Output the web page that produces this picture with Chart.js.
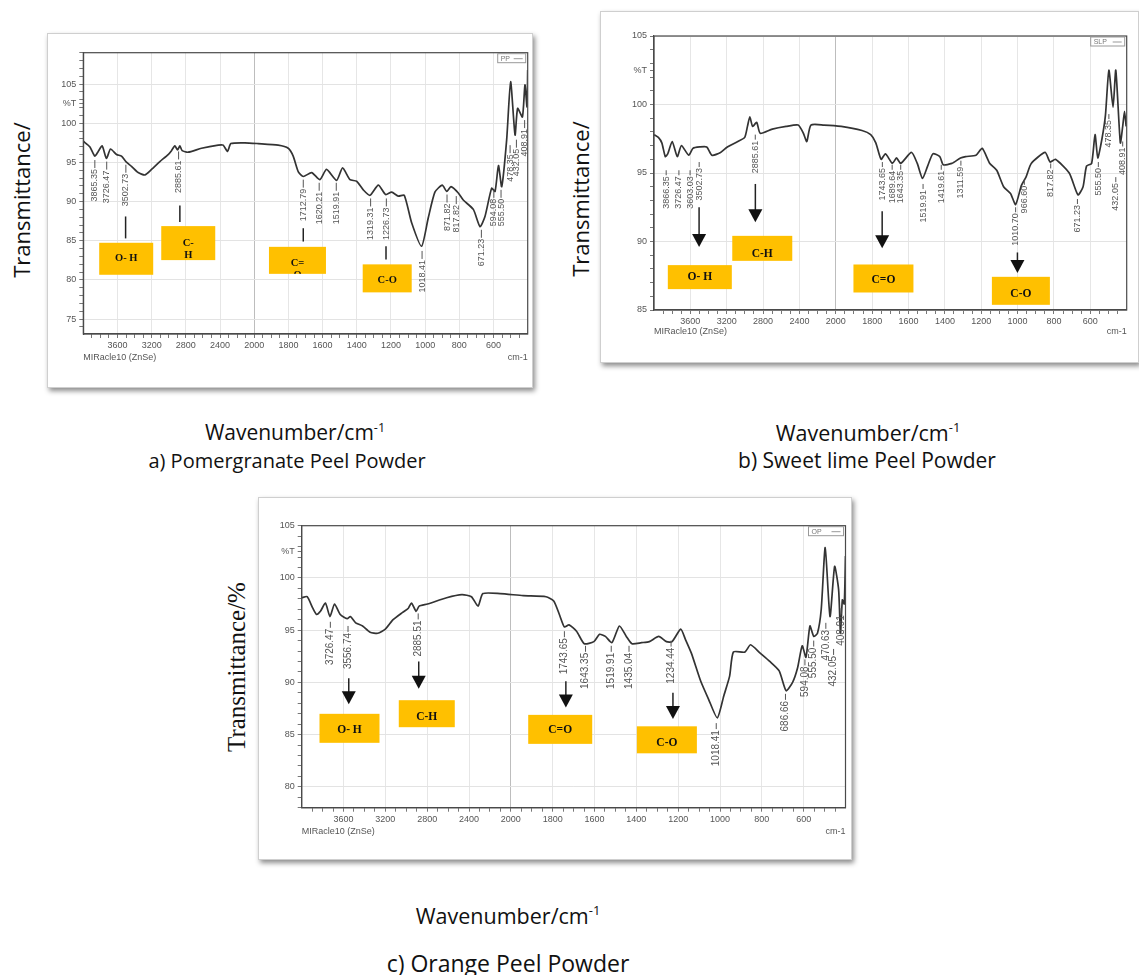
<!DOCTYPE html>
<html lang="en">
<head>
    <meta charset="UTF-8">
    <title>FTIR spectra of peel powders</title>
    <script src="https://cdn.jsdelivr.net/npm/chart.js"></script>
    <style>
        body {
            margin: 0;
            width: 1139px;
            height: 975px;
            position: relative;
            overflow: hidden;
            background: #fff;
            font-family: "Open Sans", "Liberation Sans", sans-serif;
            color: #111;
        }
        .card {
            position: absolute;
            box-sizing: border-box;
            border: 1px solid #cfcfcf;
            background: #fff;
            box-shadow: 2px 3px 5px rgba(0, 0, 0, 0.45);
        }
        .card .plot {
            position: absolute;
            inset: 0;
        }
        .ylab {
            position: absolute;
            transform: translate(-50%, -50%) rotate(-90deg);
            white-space: nowrap;
            font-size: 22px;
        }
        .serif {
            font-family: "Liberation Serif", "Times New Roman", serif;
            font-size: 25px;
        }
        .cap {
            position: absolute;
            transform: translate(-50%, -50%);
            white-space: nowrap;
            font-size: 21px;
        }
        .cap sup { font-size: 0.6em; }
    </style>
</head>
<body>

    <div class="card" style="left:47px; top:33px; width:486px; height:355px;">
        <div class="plot"><canvas id="chartA"></canvas></div>
    </div>
    <div class="card" style="left:600px; top:11px; width:539px; height:352px;">
        <div class="plot"><canvas id="chartB"></canvas></div>
    </div>
    <div class="card" style="left:258px; top:497px; width:594px; height:363px;">
        <div class="plot"><canvas id="chartC"></canvas></div>
    </div>

    <div class="ylab" style="left:21px; top:200px;">Transmittance/</div>
    <div class="ylab" style="left:580px; top:199px;">Transmittance/</div>
    <div class="ylab serif" style="left:237px; top:667px;">Transmittance/%</div>

    <div class="cap" style="left:295px; top:432px;">Wavenumber/cm<sup>-1</sup></div>
    <div class="cap" style="left:287px; top:460px; font-size:20px;">a) Pomergranate Peel Powder</div>
    <div class="cap" style="left:868px; top:432px; font-size:21.5px;">Wavenumber/cm<sup>-1</sup></div>
    <div class="cap" style="left:867px; top:460px;">b) Sweet lime Peel Powder</div>
    <div class="cap" style="left:508px; top:915px; font-size:21.5px;">Wavenumber/cm<sup>-1</sup></div>
    <div class="cap" style="left:508px; top:963px; font-size:23px;">c) Orange Peel Powder</div>

    <script>
        // x axis labels (wavenumber, cm-1)
        const xLabels = [3600, 3200, 2800, 2400, 2000, 1800, 1600, 1400, 1200, 1000, 800, 600];

        // a) pomegranate peel powder
        const wnA = [4000, 3924, 3865, 3825, 3779, 3729, 3682, 3611, 3553, 3502, 3436, 3358, 3280, 3202, 3104, 3007,
            2968, 2929, 2897, 2870, 2843, 2773, 2617, 2421, 2363, 2312, 2273, 2109, 1977, 1860, 1801, 1772, 1742,
            1713, 1664, 1616, 1577, 1518, 1483, 1440, 1401, 1362, 1323, 1274, 1231, 1196, 1157, 1122, 1079, 1021,
            982, 943, 900, 874, 849, 806, 777, 718, 679, 650, 611, 591, 571, 552, 523, 500, 474, 459, 431, 416, 404, 400];
        const tA = [97.7, 97.0, 95.8, 96.4, 97.1, 95.5, 96.7, 96.0, 95.8, 95.1, 94.5, 93.7, 93.4, 94.1, 95.1, 96.0,
            96.5, 97.1, 96.6, 97.1, 96.5, 96.3, 96.8, 97.2, 97.2, 96.4, 97.4, 97.5, 97.4, 97.2, 96.8, 95.8, 93.8,
            93.2, 93.7, 92.8, 94.1, 92.7, 94.3, 92.8, 92.6, 91.5, 90.8, 92.1, 90.9, 91.2, 90.7, 90.8, 87.3, 84.3,
            87.9, 91.2, 92.1, 91.3, 91.9, 91.1, 90.2, 89.0, 86.8, 88.1, 91.7, 91.3, 94.6, 91.9, 97.9, 105.3, 98.5,
            101.9, 100.8, 104.9, 102.1, 106.8];
        const peakA = ['3865.35', '3726.47', '3502.73', '2885.61', '1712.79', '1620.21', '1519.91', '1319.31',
            '1226.73', '1018.41', '871.82', '817.82', '671.23', '594.08', '555.50', '478.35', '432.05', '408.91'];
        const peakXA = [3865, 3726, 3502, 2885, 1713, 1620, 1520, 1319, 1227, 1018, 872, 818, 671, 598, 556, 503, 466, 418];
        const peakTA = [95.3, 95.1, 94.7, 96.4, 92.8, 92.4, 92.4, 90.4, 90.4, 83.7, 90.9, 90.7, 86.4, 91.5, 91.5, 97.2, 97.9, 100.4];

        // b) sweet lime peel powder
        const wnB = [4000, 3952, 3914, 3876, 3849, 3800, 3744, 3698, 3618, 3572, 3497, 3420, 3364, 3268, 3193, 3078,
            3002, 2972, 2946, 2915, 2870, 2832, 2699, 2547, 2414, 2357, 2319, 2274, 2130, 1970, 1856, 1808, 1780,
            1751, 1727, 1689, 1666, 1643, 1584, 1552, 1523, 1495, 1466, 1428, 1409, 1362, 1314, 1286, 1229, 1195,
            1153, 1115, 1077, 1039, 1011, 979, 954, 925, 849, 821, 792, 716, 668, 640, 621, 593, 574, 559, 536, 517,
            498, 475, 460, 435, 422, 412, 403];
        const tB = [97.8, 97.6, 97.2, 96.2, 96.4, 97.3, 96.2, 97.0, 96.3, 96.8, 96.9, 96.9, 96.3, 96.5, 96.9, 97.3,
            97.6, 98.4, 99.1, 98.4, 98.7, 97.9, 98.2, 98.4, 98.5, 97.9, 97.3, 98.5, 98.5, 98.4, 98.1, 97.8, 97.2,
            96.0, 96.4, 95.7, 96.1, 95.7, 96.5, 95.7, 94.6, 95.5, 96.4, 96.2, 95.6, 95.7, 96.1, 96.2, 96.3, 96.8,
            95.7, 95.2, 94.0, 93.5, 92.7, 94.1, 94.7, 95.7, 96.5, 95.8, 96.0, 95.0, 93.4, 94.0, 95.5, 95.7, 97.8,
            96.1, 97.5, 99.2, 102.5, 99.8, 102.5, 97.2, 98.4, 99.5, 98.4];
        const peakB = ['3866.35', '3726.47', '3603.03', '3502.73', '2885.61', '1743.65', '1689.64', '1643.35',
            '1519.91', '1419.61', '1311.59', '1010.70', '966.60', '817.82', '671.23', '555.50', '478.35', '432.05', '408.91'];
        const peakXB = [3866, 3726, 3603, 3503, 2886, 1744, 1690, 1643, 1520, 1420, 1312, 1011, 963, 818, 671, 556, 498, 460, 422];
        const peakTB = [95.2, 95.2, 95.2, 95.8, 97.8, 95.8, 95.6, 95.6, 94.2, 95.6, 95.9, 92.5, 94.5, 95.7, 93.1, 95.8, 99.3, 94.7, 97.3];

        // c) orange peel powder
        const wnC = [4000, 3948, 3894, 3858, 3821, 3773, 3730, 3686, 3631, 3565, 3535, 3484, 3418, 3346, 3272, 3200,
            3126, 3035, 2980, 2950, 2906, 2877, 2797, 2614, 2468, 2377, 2314, 2267, 2102, 1941, 1832, 1795, 1768,
            1744, 1722, 1686, 1649, 1603, 1576, 1548, 1517, 1481, 1448, 1421, 1375, 1338, 1293, 1256, 1229, 1188,
            1165, 1137, 1092, 1055, 1013, 982, 954, 936, 881, 854, 808, 762, 717, 684, 653, 629, 607, 589, 570, 552,
            534, 516, 497, 474, 452, 433, 424, 415, 406, 400];
        const tC = [98.1, 98.2, 97.1, 96.5, 96.8, 97.6, 96.3, 97.5, 96.5, 96.1, 96.3, 95.7, 95.4, 94.8, 94.7, 95.1,
            96.0, 96.7, 97.1, 97.6, 96.8, 97.3, 97.5, 98.1, 98.4, 98.2, 97.3, 98.5, 98.5, 98.3, 98.2, 97.8, 96.5,
            95.3, 95.5, 94.9, 93.7, 93.9, 94.6, 94.4, 93.8, 95.4, 94.4, 93.7, 93.8, 93.9, 94.4, 93.9, 93.9, 95.1,
            94.1, 92.8, 90.1, 88.4, 86.6, 88.7, 90.6, 92.9, 92.9, 93.6, 92.8, 92.0, 91.1, 89.2, 90.0, 91.4, 93.5,
            92.4, 95.4, 94.4, 94.7, 97.0, 102.9, 96.3, 101.1, 98.9, 94.7, 97.9, 97.5, 102.1];
        const peakC = ['3726.47', '3556.74', '2885.51', '1743.65', '1643.35', '1519.91', '1435.04', '1234.44',
            '1018.41', '686.66', '594.08', '555.50', '470.63', '432.05', '408.91'];
        const peakXC = [3726, 3557, 2886, 1744, 1643, 1520, 1435, 1234, 1018, 687, 594, 552, 494, 457, 421];
        const peakTC = [95.8, 95.4, 96.6, 94.9, 93.5, 93.5, 93.5, 94.0, 86.1, 88.9, 92.2, 94.0, 95.7, 93.2, 97.1];

        // the instrument plots above 2000 cm-1 at half the scale of below it
        const fold = v => (v > 2000 ? 2000 + (v - 2000) / 2 : v);
        const unfold = f => (f > 2000 ? 2000 + (f - 2000) * 2 : f);

        class FoldedScale extends Chart.LinearScale {
            buildTicks() {
                const ticks = [];
                for (let v = 3900; v > 2000; v -= 100) ticks.push({ value: v });
                for (let v = 2000; v > this.min; v -= 50) ticks.push({ value: v });
                return ticks;
            }
            getPixelForValue(value) {
                const a = fold(this.min), b = fold(this.max);
                return this.getPixelForDecimal((fold(value) - a) / (b - a));
            }
            getValueForPixel(pixel) {
                const a = fold(this.min), b = fold(this.max);
                return unfold(a + this.getDecimalForPixel(pixel) * (b - a));
            }
        }
        FoldedScale.id = 'folded';
        FoldedScale.defaults = {};
        Chart.register(FoldedScale);

        const tickFont = { family: "'Liberation Sans Narrow', 'Arial Narrow', 'Liberation Sans', sans-serif", size: 9 };

        function yTicks(min, max) {
            const t = [];
            for (let v = Math.ceil(min); v <= Math.floor(max); v++) t.push({ value: v });
            if (max > 102.5) t.push({ value: 102.5 });
            return t.sort((p, q) => p.value - q.value);
        }

        function ftirChart(id, cfg) {
            const annot = {
                id: 'annot',
                afterDraw(chart) {
                    const { ctx, chartArea: a, scales: { x, y } } = chart;
                    ctx.save();
                    ctx.strokeStyle = '#4a4a4a';
                    ctx.lineWidth = 1.2;
                    ctx.strokeRect(a.left, a.top, a.width, a.height);

                    // peak labels, vertical, under each band
                    ctx.fillStyle = '#555';
                    ctx.strokeStyle = '#555';
                    ctx.lineWidth = 1;
                    ctx.font = cfg.peakFont + "px 'Liberation Sans', sans-serif";
                    ctx.textAlign = 'right';
                    ctx.textBaseline = 'middle';
                    cfg.peaks.forEach((lab, i) => {
                        const px = x.getPixelForValue(cfg.peakX[i]);
                        const py = y.getPixelForValue(cfg.peakT[i]);
                        ctx.save();
                        ctx.translate(px, py);
                        ctx.rotate(-Math.PI / 2);
                        ctx.beginPath();
                        ctx.moveTo(0, 0);
                        ctx.lineTo(-cfg.lead, 0);
                        ctx.stroke();
                        ctx.fillText(lab, -cfg.lead - 1, 0);
                        ctx.restore();
                    });

                    // functional group boxes with their pointers
                    cfg.groups.forEach(g => {
                        const lx = x.getPixelForValue(g.lx);
                        const y1 = y.getPixelForValue(g.ly[0]);
                        const y2 = y.getPixelForValue(g.ly[1]);
                        ctx.strokeStyle = '#222';
                        ctx.fillStyle = '#111';
                        ctx.lineWidth = 1.5;
                        ctx.beginPath();
                        ctx.moveTo(lx, y1);
                        ctx.lineTo(lx, cfg.arrow ? y2 - 12 : y2);
                        ctx.stroke();
                        if (cfg.arrow) {
                            ctx.beginPath();
                            ctx.moveTo(lx - 7, y2 - 13);
                            ctx.lineTo(lx + 7, y2 - 13);
                            ctx.lineTo(lx, y2);
                            ctx.closePath();
                            ctx.fill();
                        }
                        const cx = x.getPixelForValue(g.x);
                        const cy = y.getPixelForValue(g.y);
                        const bx = cx - g.w / 2, by = cy - g.h / 2;
                        ctx.fillStyle = '#ffc000';
                        ctx.fillRect(bx, by, g.w, g.h);
                        ctx.save();
                        ctx.beginPath();
                        ctx.rect(bx, by, g.w, g.h);
                        ctx.clip();
                        ctx.fillStyle = '#111';
                        ctx.font = 'bold ' + cfg.boxFont + "px 'Liberation Serif', 'Times New Roman', serif";
                        ctx.textAlign = 'center';
                        ctx.textBaseline = 'middle';
                        g.text.forEach((t, k) => ctx.fillText(t, cx, cy + g.dy + k * 12));
                        ctx.restore();
                    });

                    // sample legend, top right
                    ctx.strokeStyle = '#999';
                    ctx.lineWidth = 1;
                    const lw = cfg.legendW, lx0 = a.right - lw - 2, ly0 = a.top + 1;
                    ctx.strokeRect(lx0, ly0, lw, 9);
                    ctx.fillStyle = '#777';
                    ctx.font = "7px 'Liberation Sans', sans-serif";
                    ctx.textAlign = 'left';
                    ctx.textBaseline = 'middle';
                    ctx.fillText(cfg.name, lx0 + 3, ly0 + 5);
                    ctx.beginPath();
                    ctx.moveTo(lx0 + lw - 12, ly0 + 5);
                    ctx.lineTo(lx0 + lw - 3, ly0 + 5);
                    ctx.stroke();

                    // instrument footer
                    ctx.fillStyle = '#555';
                    ctx.font = tickFont.size + 'px ' + tickFont.family;
                    ctx.fillText('MIRacle10 (ZnSe)', a.left, a.bottom + cfg.footer);
                    ctx.textAlign = 'right';
                    ctx.fillText('cm-1', a.right, a.bottom + cfg.footer);
                    ctx.restore();
                }
            };

            return new Chart(document.getElementById(id), {
                type: 'line',
                data: {
                    datasets: [{
                        data: cfg.wn.map((v, i) => ({ x: v, y: cfg.t[i] })),
                        borderColor: '#333',
                        borderWidth: 1.7,
                        pointRadius: 0,
                        tension: 0.2,
                        fill: false
                    }]
                },
                options: {
                    responsive: true,
                    maintainAspectRatio: false,
                    animation: false,
                    events: [],
                    layout: { padding: { left: 0, bottom: 0, top: cfg.padTop, right: cfg.padRight } },
                    plugins: { legend: { display: false }, tooltip: { enabled: false } },
                    scales: {
                        x: {
                            type: 'folded',
                            reverse: true,
                            min: 400,
                            max: 4000,
                            afterFit: s => { s.height = cfg.xh; },
                            border: { color: '#4a4a4a', width: 1.2 },
                            grid: {
                                color: c => (c.tick && c.tick.value === 2000) ? '#bdbdbd'
                                    : (c.tick && xLabels.includes(c.tick.value)) ? '#e6e6e6' : 'rgba(0,0,0,0)',
                                tickColor: '#777',
                                tickLength: 4
                            },
                            ticks: {
                                autoSkip: false,
                                maxRotation: 0,
                                minRotation: 0,
                                padding: 2,
                                color: '#555',
                                font: tickFont,
                                callback: v => (xLabels.includes(v) ? String(v) : '')
                            }
                        },
                        y: {
                            type: 'linear',
                            min: cfg.ymin,
                            max: cfg.ymax,
                            afterFit: s => { s.width = cfg.yw; },
                            afterBuildTicks: s => { s.ticks = yTicks(cfg.ymin, cfg.ymax); },
                            border: { color: '#4a4a4a', width: 1.2 },
                            grid: {
                                color: c => (c.tick && c.tick.value % 5 === 0) ? '#e3e3e3' : 'rgba(0,0,0,0)',
                                tickColor: '#777',
                                tickLength: 4
                            },
                            ticks: {
                                autoSkip: false,
                                padding: 3,
                                color: '#555',
                                font: tickFont,
                                callback: v => (v === 102.5 ? '%T' : (v % 5 === 0 ? String(v) : ''))
                            }
                        }
                    }
                },
                plugins: [annot]
            });
        }

        ftirChart('chartA', {
            wn: wnA, t: tA, peaks: peakA, peakX: peakXA, peakT: peakTA,
            ymin: 73.1, ymax: 109, yw: 35.3, xh: 53, padTop: 18.7, padRight: 4.3,
            peakFont: 9, lead: 8, boxFont: 10.5, arrow: false, name: 'PP', legendW: 28, footer: 24,
            groups: [
                { text: ['O- H'], x: 3498, y: 82.7, w: 54, h: 32, dy: 0, lx: 3505, ly: [88.1, 85.3] },
                { text: ['C-', 'H'], x: 2772, y: 84.7, w: 54, h: 34, dy: 0, lx: 2870, ly: [89.5, 87.4] },
                { text: ['C=', 'O'], x: 1747, y: 82.5, w: 57, h: 27, dy: 3, lx: 1713, ly: [86.6, 84.9] },
                { text: ['C-O'], x: 1222, y: 80.2, w: 49, h: 28, dy: 2, lx: 1229, ly: [84.3, 82.6] }
            ]
        });

        ftirChart('chartB', {
            wn: wnB, t: tB, peaks: peakB, peakX: peakXB, peakT: peakTB,
            ymin: 85, ymax: 105, yw: 53, xh: 52, padTop: 24, padRight: 11.3,
            peakFont: 9, lead: 5, boxFont: 11.5, arrow: true, name: 'SLP', legendW: 34, footer: 22,
            groups: [
                { text: ['O- H'], x: 3496, y: 87.4, w: 64, h: 24, dy: 0, lx: 3504, ly: [92.5, 89.6] },
                { text: ['C-H'], x: 2809, y: 89.5, w: 60, h: 25, dy: 6, lx: 2885, ly: [94.2, 91.4] },
                { text: ['C=O'], x: 1738, y: 87.3, w: 60, h: 28, dy: 2, lx: 1745, ly: [92.2, 89.5] },
                { text: ['C-O'], x: 982, y: 86.4, w: 58, h: 28, dy: 3, lx: 1001, ly: [89.2, 87.7] }
            ]
        });

        ftirChart('chartC', {
            wn: wnC, t: tC, peaks: peakC, peakX: peakXC, peakT: peakTC,
            ymin: 78, ymax: 105, yw: 42.7, xh: 51.3, padTop: 27.7, padRight: 5.5,
            peakFont: 10, lead: 6, boxFont: 11.5, arrow: true, name: 'OP', legendW: 35, footer: 24,
            groups: [
                { text: ['O- H'], x: 3543, y: 85.6, w: 60, h: 29, dy: 2, lx: 3550, ly: [90.4, 87.9] },
                { text: ['C-H'], x: 2804, y: 87.0, w: 56, h: 27, dy: 3, lx: 2881, ly: [92.0, 89.4] },
                { text: ['C=O'], x: 1764, y: 85.5, w: 64, h: 29, dy: 1, lx: 1737, ly: [90.1, 87.6] },
                { text: ['C-O'], x: 1254, y: 84.5, w: 60, h: 27, dy: 3, lx: 1225, ly: [89.0, 86.5] }
            ]
        });
    </script>
</body>
</html>
